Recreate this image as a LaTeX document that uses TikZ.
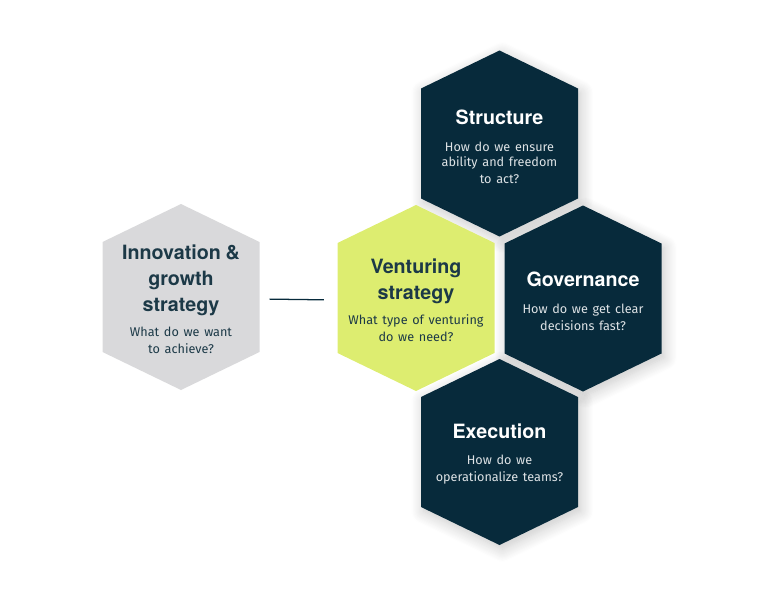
\documentclass[tikz,border=0pt]{standalone}
\usepackage{fontspec}
\usetikzlibrary{shadows.blur}
\setmainfont{TeX Gyre Heros}
\newfontfamily\askfont{Fira Sans}
\definecolor{navy}{RGB}{7,42,59}
\definecolor{lime}{RGB}{221,237,112}
\definecolor{ashgrey}{RGB}{217,217,219}
\definecolor{ink}{RGB}{28,57,71}
\definecolor{paleink}{RGB}{222,227,230}
\newcommand{\titlefont}{\fontsize{14pt}{18.5pt}\selectfont\bfseries}
\newcommand{\askline}{\askfont\fontsize{9pt}{11pt}\selectfont}
% hexagon round a centre: half width 78.5, side 110, tips at 93
\newcommand{\hexa}[2][]{\path[#1] ([shift={(0,-93)}]#2) -- ++(78.5,38) -- ++(0,110) -- ++(-78.5,38) -- ++(-78.5,-38) -- ++(0,-110) -- cycle;}

\begin{document}
\begin{tikzpicture}[x=0.025cm,y=-0.025cm]
	\tikzset{hexbox/.style={text width=3.925cm,inner sep=0pt,align=center},
		glow/.style={blur shadow={shadow xshift=2pt,shadow yshift=-3pt,shadow blur radius=9pt,shadow blur steps=12,shadow opacity=22}}}
	\useasboundingbox (0,0) rectangle (762,591);
	% shadows first, then the cells
	\hexa[glow]{499.5,143.5}
	\hexa[glow]{583,298.5}
	\hexa[glow]{499.5,452}
	\hexa[fill=ashgrey]{181,297}
	\hexa[fill=lime]{416,298}
	\hexa[fill=navy]{499.5,143.5}
	\hexa[fill=navy]{583,298.5}
	\hexa[fill=navy]{499.5,452}
	% texts
	\node[hexbox,text=ink] (inno) at (181,299) {{\titlefont Innovation \&\\growth\\strategy\\[7pt]}{\askline What do we want\\to achieve?}};
	\node[hexbox,text=ink] (vent) at (416,300) {{\titlefont Venturing\\strategy\\[7pt]}{\askline What type of venturing\\do we need?}};
	\node[hexbox,text=white] (struct) at (499.5,147) {{\titlefont Structure\\[8pt]}{\askline\color{paleink} How do we ensure\\ability and freedom\\to act?}};
	\node[hexbox,text=white] (gov) at (583,301) {{\titlefont Governance\\[8pt]}{\askline\color{paleink} How do we get clear\\decisions fast?}};
	\node[hexbox,text=white] (exec) at (499.5,454) {{\titlefont Execution\\[8pt]}{\askline\color{paleink} How do we\\operationalize teams?}};
	\draw[navy,line width=0.9pt,shorten <=7pt,shorten >=9.5pt] (inno.east) -- (vent.west);
\end{tikzpicture}
\end{document}
